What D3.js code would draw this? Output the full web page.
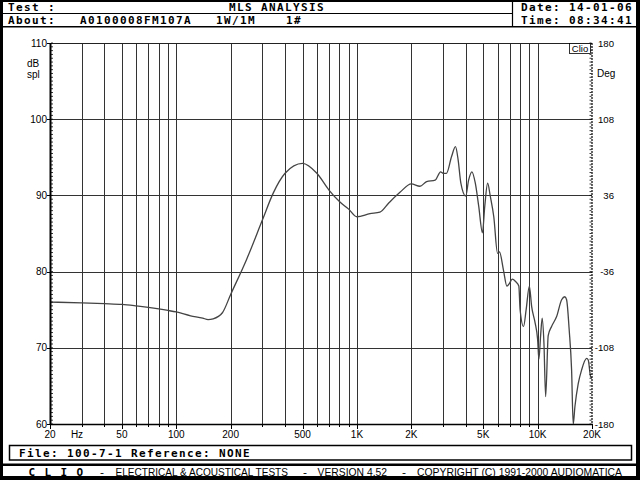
<!DOCTYPE html>
<html><head><meta charset="utf-8">
<script src="https://cdn.jsdelivr.net/npm/d3@7"></script>
<style>body{margin:0;background:#fff}svg{display:block}</style>
</head><body>
<script>
// ---- data ----
const freqs = [20,30,40,50,60,70,80,90,100,120,140,150,160,180,200,245,300,344,400,500,600,700,800,900,1000,1180,1340,1500,1730,2000,2230,2430,2710,2905,3000,3130,3340,3510,3630,3760,4000,4150,4330,4520,4720,4950,5100,5290,5470,5720,6000,6150,6470,6760,7000,7230,7550,7870,8000,8360,8640,9000,9270,9680,10000,10165,10390,10600,10840,11080,11445,11950,12740,13580,14160,14470,14950,15420,15740,16090,16780,17520,18680,19060,19650,20000];
const splDb = [76.0,75.9,75.8,75.7,75.5,75.3,75.1,74.9,74.7,74.2,73.9,73.7,73.8,74.6,77.0,81.6,86.8,90.3,92.9,94.2,92.9,90.7,89.2,88.2,87.2,87.6,87.8,89.0,90.4,91.5,91.2,91.8,92.0,93.1,92.9,92.9,95.1,96.4,94.7,91.6,89.9,92.0,93.1,91.6,88.6,85.1,88.6,91.6,89.9,87.2,82.4,82.6,80.2,78.1,78.5,79.0,78.7,78.1,75.0,72.8,75.0,78.1,75.4,73.3,71.1,68.5,71.6,73.9,70.6,63.6,71.6,72.8,74.1,76.3,76.7,76.3,72.4,67.1,60.0,62.3,65.3,67.1,68.6,68.4,66.2,66.0];
const gridFreqs = [30,40,50,60,70,80,90,100,200,300,400,500,600,700,800,900,1000,2000,3000,4000,5000,6000,7000,8000,9000,10000];
const xLabelFreqs = [20,50,100,200,500,1000,2000,5000,10000,20000];
const xLabels = ["20","50","100","200","500","1K","2K","5K","10K","20K"];
const dbTicks = [60,70,80,90,100,110];
const degTicks = [-180,-108,-36,36,108,180];
const headerTexts = {test:"Test :", title:"MLS ANALYSIS", about:"About:", id:"A0100008FM107A", power:"1W/1M", num:"1#", date:"Date: 14-01-06", time:"Time: 08:34:41"};
const footerFile = "File: 100-7-1  Reference: NONE";

// ---- layout ----
const W=640,H=480;
const svg=d3.select("body").append("svg").attr("width",W).attr("height",H);
const x=d3.scaleLog().domain([20,20000]).range([50,592]);
const y=d3.scaleLinear().domain([60,110]).range([424,43]);
const yR=d3.scaleLinear().domain([-180,180]).range([424,43]);

const mono='"DejaVu Sans Mono", monospace';
const sans='"Liberation Sans", Arial, sans-serif';

// frame
svg.append("rect").attr("width",W).attr("height",H).attr("fill","#000");
svg.append("rect").attr("x",3).attr("y",2).attr("width",633).attr("height",474).attr("fill","#fff");

// header lines
svg.append("line").attr("x1",3).attr("x2",512).attr("y1",13.5).attr("y2",13.5).attr("stroke","#000").attr("stroke-width",1.2);
svg.append("line").attr("x1",3).attr("x2",636).attr("y1",26.8).attr("y2",26.8).attr("stroke","#000").attr("stroke-width",1.6);
svg.append("line").attr("x1",512.5).attr("x2",512.5).attr("y1",2).attr("y2",27).attr("stroke","#000").attr("stroke-width",1.2);

function hText(t,xp,yp,anchor){
  return svg.append("text").attr("x",xp).attr("y",yp).attr("font-family",mono).attr("font-weight","bold")
   .attr("font-size",11).attr("letter-spacing",1.38).attr("text-anchor",anchor||"start").attr("fill","#000").text(t);
}
hText(headerTexts.test,8,11.2);
hText(headerTexts.title,277,11.2,"middle");
hText(headerTexts.about,8,23.5);
hText(headerTexts.id,80,23.5);
hText(headerTexts.power,216,23.5);
hText(headerTexts.num,286,23.5);
hText(headerTexts.date,521,11.2);
hText(headerTexts.time,521,23.5);

// grid
const g=svg.append("g");
g.selectAll("line.v").data(gridFreqs).join("line")
 .attr("x1",d=>Math.round(x(d))+0.5).attr("x2",d=>Math.round(x(d))+0.5).attr("y1",43).attr("y2",424)
 .attr("stroke","#333").attr("stroke-width",1);
g.selectAll("line.h").data([70,80,90,100]).join("line")
 .attr("x1",50).attr("x2",592).attr("y1",d=>Math.round(y(d))+0.5).attr("y2",d=>Math.round(y(d))+0.5)
 .attr("stroke","#333").attr("stroke-width",1);
// top line
svg.append("line").attr("x1",50).attr("x2",592).attr("y1",43.5).attr("y2",43.5).attr("stroke","#222").attr("stroke-width",1);

// curve
svg.append("clipPath").attr("id","pc").append("rect").attr("x",50).attr("y",43).attr("width",542).attr("height",381);
const line=d3.line().x((d,i)=>x(freqs[i])).y(d=>y(d)).curve(d3.curveMonotoneX);
svg.append("path").attr("clip-path","url(#pc)").attr("d",line(splDb)).attr("fill","none")
 .attr("stroke","#444").attr("stroke-width",1.3);

// left axis (thick) with minor ticks
svg.append("line").attr("x1",50.5).attr("x2",50.5).attr("y1",43).attr("y2",425).attr("stroke","#000").attr("stroke-width",2);
const minor=d3.range(60,110.01,0.5);
svg.selectAll("line.lm").data(minor).join("line")
 .attr("x1",51).attr("x2",53).attr("y1",d=>y(d)).attr("y2",d=>y(d)).attr("stroke","#000").attr("stroke-width",0.8);
svg.selectAll("line.lt").data(dbTicks).join("line")
 .attr("x1",47).attr("x2",51).attr("y1",d=>Math.round(y(d))+0.5).attr("y2",d=>Math.round(y(d))+0.5).attr("stroke","#000");
svg.selectAll("text.ly").data(dbTicks).join("text")
 .attr("x",47).attr("y",d=>y(d)+3.5).attr("text-anchor","end").attr("font-family",sans).attr("font-size",10).text(d=>d);
svg.append("text").attr("x",27).attr("y",66.5).attr("font-family",sans).attr("font-size",10).text("dB");
svg.append("text").attr("x",27).attr("y",77.5).attr("font-family",sans).attr("font-size",10).text("spl");

// right axis (dotted)
svg.append("line").attr("x1",592).attr("x2",592).attr("y1",43).attr("y2",425).attr("stroke","#000").attr("stroke-width",1.2).attr("stroke-dasharray","2,1");
svg.selectAll("line.rm").data(minor).join("line")
 .attr("x1",589.5).attr("x2",591.5).attr("y1",d=>y(d)).attr("y2",d=>y(d)).attr("stroke","#000").attr("stroke-width",0.8);
svg.selectAll("text.ry").data(degTicks).join("text")
 .attr("x",614).attr("y",d=>yR(d)+3.5).attr("text-anchor","end").attr("font-family",sans).attr("font-size",9.6).text(d=>d);
svg.append("text").attr("x",597).attr("y",77).attr("font-family",sans).attr("font-size",10).text("Deg");

// bottom axis
svg.append("line").attr("x1",50).attr("x2",593).attr("y1",424.5).attr("y2",424.5).attr("stroke","#000").attr("stroke-width",1.5);
svg.selectAll("line.bt").data(gridFreqs).join("line")
 .attr("x1",d=>Math.round(x(d))+0.5).attr("x2",d=>Math.round(x(d))+0.5).attr("y1",424).attr("y2",427).attr("stroke","#000");
svg.selectAll("line.bm").data(xLabelFreqs).join("line")
 .attr("x1",d=>Math.round(x(d))+0.5).attr("x2",d=>Math.round(x(d))+0.5).attr("y1",424).attr("y2",429).attr("stroke","#000");
svg.selectAll("text.bx").data(xLabelFreqs).join("text")
 .attr("x",d=>x(d)).attr("y",438).attr("text-anchor","middle").attr("font-family",sans).attr("font-size",10).text((d,i)=>xLabels[i]);
svg.append("text").attr("x",77).attr("y",438).attr("text-anchor","middle").attr("font-family",sans).attr("font-size",10).text("Hz");

// Clio label
svg.append("rect").attr("x",569.5).attr("y",43.5).attr("width",21).attr("height",10).attr("fill","#fff").attr("stroke","#000").attr("stroke-width",0.8);
svg.append("text").attr("x",580).attr("y",51.8).attr("text-anchor","middle").attr("font-family",sans).attr("font-size",9.5).text("Clio");

// footer
svg.append("rect").attr("x",9.5).attr("y",445.5).attr("width",622).attr("height",14.5).attr("fill","none").attr("stroke","#000").attr("stroke-width",1.5);
hText(footerFile,19,457);
svg.append("line").attr("x1",3).attr("x2",636).attr("y1",464.8).attr("y2",464.8).attr("stroke","#000").attr("stroke-width",2.6);
hText("C L I O",28.5,476);
const small=[["-",100,104],["ELECTRICAL & ACOUSTICAL TESTS",115.5,288],["-",303,307],["VERSION 4.52",317.6,387],["-",402,406],["COPYRIGHT (C) 1991-2000 AUDIOMATICA",417,622]];
small.forEach(s=>{
  svg.append("text").attr("x",s[1]).attr("y",475.5).attr("font-family",sans).attr("font-size",10.5)
   .attr("textLength",s[2]-s[1]).attr("lengthAdjust","spacingAndGlyphs").text(s[0]);
});
</script>
</body></html>
